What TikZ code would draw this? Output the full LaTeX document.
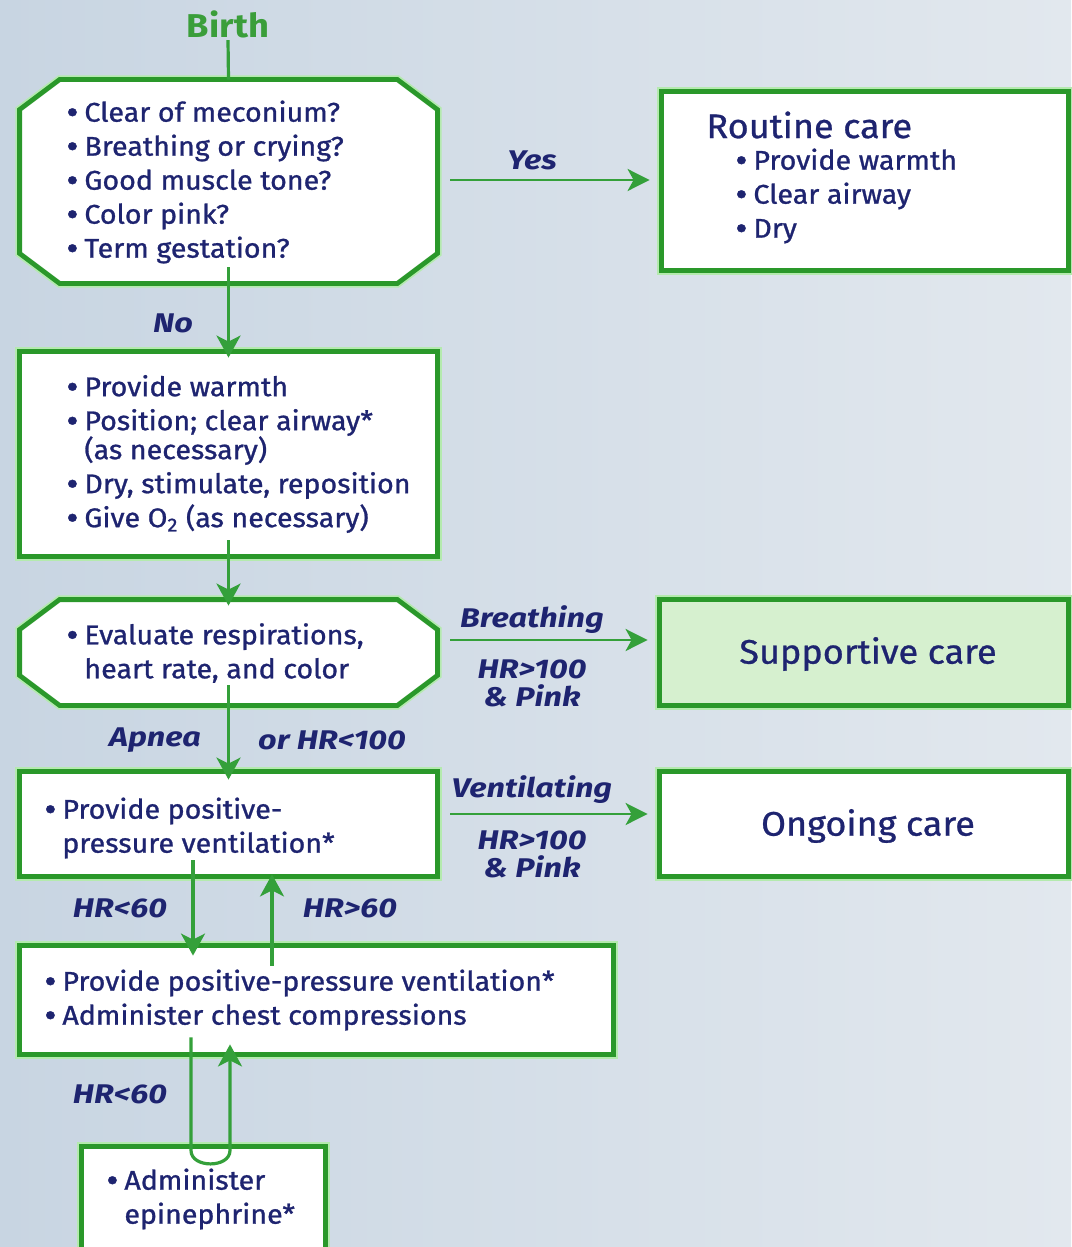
\documentclass[tikz,border=0pt]{standalone}
\usepackage{fontspec}
\setmainfont{Fira Sans}
\newfontfamily\bodyf{Fira Sans}[FakeStretch=1.06, FakeBold=1]
\newfontfamily\titf{Fira Sans}[FakeStretch=1.06, FakeBold=0.8]
\newfontfamily\labf{Fira Sans}[FakeStretch=1.2]
\newfontfamily\birthf{Fira Sans}[FakeStretch=1.1]
\usetikzlibrary{arrows.meta,calc}
\definecolor{bgL}{HTML}{C8D5E2}
\definecolor{bgR}{HTML}{E2E8EE}
\definecolor{gr}{HTML}{2A982A}
\definecolor{grlite}{HTML}{B4EAAE}
\definecolor{navy}{HTML}{1E2470}
\definecolor{suppfill}{HTML}{D6F0CF}
\definecolor{birthgr}{HTML}{3A9E3A}
\definecolor{cn}{HTML}{34A03A}
\newcommand{\bl}{\makebox[9pt][l]{\raisebox{-1.3pt}{\scalebox{1.3}{•}}}}
\newcommand{\ind}{\hspace*{9pt}}
\tikzset{
  ghost/.style={draw=none, fill=none, inner sep=0pt},
  sz/.style 2 args={minimum width=#1*0.5pt, minimum height=#2*0.5pt},
  boxline/.style={draw=gr, line width=2.4pt, line join=miter,
    preaction={draw=grlite, line width=4.2pt}},
  txt/.style={text=navy, inner sep=0pt, align=left,
    font=\bodyf\fontsize{13.5}{17}\selectfont},
  ttl/.style={text=navy, inner sep=0pt, align=left,
    font=\titf\fontsize{17}{19}\selectfont},
  lab/.style={text=navy, inner sep=0pt, align=center,
    font=\labf\fontsize{13.5}{14}\selectfont\bfseries\itshape},
  conn/.style={draw=cn, line width=1.6pt},
  arr/.style={conn, -{Stealth[length=11pt,width=12pt,inset=3pt]}},
  harr/.style={draw=cn, line width=1.4pt, -{Stealth[length=11pt,width=11pt,inset=3pt]}},
}
\begin{document}
\begin{tikzpicture}[x=0.5pt,y=-0.5pt]
\useasboundingbox (0,0) rectangle (1071,1247);
\shade[left color=bgL, right color=bgR] (0,0) rectangle (1071,1247);

% ---- node frames
\node[ghost, sz={417}{203}] (q1) at (228.5,181.5) {};
\node[ghost, sz={406}{178}] (routine) at (865,181) {};
\node[ghost, sz={417}{204}] (b2) at (228.5,454) {};
\node[ghost, sz={417}{105}] (q3) at (228.5,652.5) {};
\node[ghost, sz={408}{105}] (supp) at (864,652.5) {};
\node[ghost, sz={417}{104}] (ppv) at (228.5,824) {};
\node[ghost, sz={408}{104}] (ongo) at (864,824) {};
\node[ghost, sz={593}{108}] (comp) at (316.5,1000) {};
\node[ghost, sz={243}{115}] (epi) at (203.5,1204.5) {};

% ---- octagons
\foreach \n in {q1,q3}{
  \draw[boxline, fill=white]
    ($(\n.north west)+(40,0)$) -- ($(\n.north east)+(-40,0)$) --
    ($(\n.north east)+(0,30)$) -- ($(\n.south east)+(0,-30)$) --
    ($(\n.south east)+(-40,0)$) -- ($(\n.south west)+(40,0)$) --
    ($(\n.south west)+(0,-30)$) -- ($(\n.north west)+(0,30)$) -- cycle;
}
% ---- rectangles
\foreach \n in {routine,b2,ppv,ongo,comp,epi}{
  \draw[boxline, fill=white] (\n.north west) rectangle (\n.south east);
}
\draw[boxline, fill=suppfill] (supp.north west) rectangle (supp.south east);

% ---- texts
\node[font=\birthf\fontsize{16.5}{18}\selectfont\bfseries, text=birthgr, inner sep=1pt] (birth) at (228,24) {Birth};
\node[txt, anchor=west] (q1t) at (66,182) {\bl Clear of meconium?\\ \bl Breathing or crying?\\ \bl Good muscle tone?\\ \bl Color pink?\\ \bl Term gestation?};
\node[ttl, anchor=west] (rtitle) at (706,125) {Routine care};
\node[txt, anchor=west] (rt) at (735,196) {\bl Provide warmth\\ \bl Clear airway\\ \bl Dry};
\node[txt, anchor=west] (b2t) at (66,454) {\bl Provide warmth\\ \bl Position; clear airway*\\[-2.5pt] \ind(as necessary)\\ \bl Dry, stimulate, reposition\\ \bl Give O\textsubscript{2} (as necessary)};
\node[txt, anchor=west] (q3t) at (66,653) {\bl Evaluate respirations,\\ \ind heart rate, and color};
\node[ttl] (suppt) at (868,654) {Supportive care};
\node[txt, anchor=west] (ppvt) at (44,828) {\bl Provide positive-\\ \ind pressure ventilation*};
\node[ttl] (ongot) at (868,826) {Ongoing care};
\node[txt, anchor=west] (compt) at (44,1000) {\bl Provide positive-pressure ventilation*\\ \bl Administer chest compressions};
\node[txt, anchor=west] (epit) at (106,1199) {\bl Administer\\ \ind epinephrine*};

% ---- labels
\node[lab] (lyes) at (532,160) {Yes};
\node[lab] (lno) at (173,323) {No};
\node[lab] (lbr) at (532,620) {Breathing};
\node[lab] (lbr2) at (532,683) {HR>100\\ \& Pink};
\node[lab] (lap) at (155,740) {Apnea};
\node[lab] (lor) at (332,740) {or HR<100};
\node[lab] (lve) at (532,790) {Ventilating};
\node[lab] (lve2) at (532,854) {HR>100\\ \& Pink};
\node[lab] (lhl) at (120,908) {HR<60};
\node[lab] (lhg) at (350,908) {HR>60};
\node[lab] (lhl2) at (120,1094) {HR<60};

% ---- connectors
\draw[conn] (birth.south) -- (q1.north);
\draw[arr] ($(q1.south)+(0,-16)$) -- ($(b2.north)+(0,6)$);
\draw[harr] ($(q1.east)+(13,-1.5)$) -- ($(routine.west)+(-12,-1)$);
\draw[arr] ($(b2.south)+(0,-16)$) -- ($(q3.north)+(0,6)$);
\draw[harr] ($(q3.east)+(13,-12.5)$) -- ($(supp.west)+(-12,-12.5)$);
\draw[arr] ($(q3.south)+(0,-20)$) -- ($(ppv.north)+(0,8)$);
\draw[harr] ($(ppv.east)+(13,-10)$) -- ($(ongo.west)+(-12,-10)$);
\draw[arr] ($(ppv.south)+(-35.5,-16)$) -- ($(comp.north)+(-123.5,10)$);
\draw[arr] ($(comp.north)+(-44.5,20)$) -- ($(ppv.south)+(43.5,-2)$);
\coordinate (lpA) at ($(comp.south)+(-125.5,96)$);
\coordinate (lpB) at ($(comp.south)+(-86.5,96)$);
\draw[arr] ($(comp.south)+(-125.5,-17)$) -- (lpA) .. controls ($(lpA)+(0,18)$) and ($(lpB)+(0,18)$) .. (lpB) -- ($(comp.south)+(-86.5,-10)$);
\end{tikzpicture}
\end{document}
